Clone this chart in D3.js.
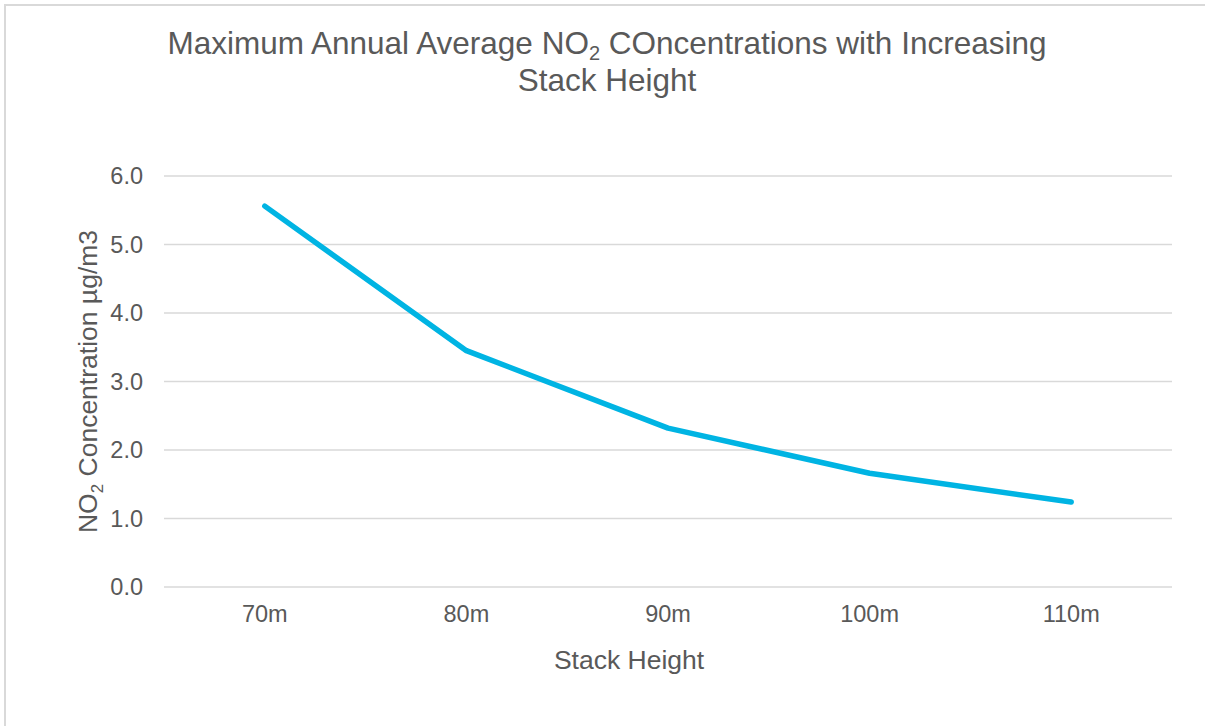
<!DOCTYPE html>
<html lang="en">
<head>
    <meta charset="UTF-8">
    <title>NO2 vs Stack Height</title>
    <script src="https://d3js.org/d3.v7.min.js"></script>
    <style>
        body{
            margin: 0;
            background: #fff;
        }
        text{
            font-family: "Liberation Sans", Arial, sans-serif;
            fill: #595959;
        }
    </style>
</head>
<body>
<script>

    // data
    const heights = ["70m", "80m", "90m", "100m", "110m"]
    const no2 = [5.56, 3.45, 2.32, 1.66, 1.24]
    const yTicks = [0, 1, 2, 3, 4, 5, 6]

    const width = 1205
    const height = 726

    let svg = d3.select("body").append("svg")
                .attr("width", width)
                .attr("height", height)

    // outer chart border
    svg.append("rect")
        .attr("x", 5).attr("y", 5)
        .attr("width", width + 10).attr("height", height + 10)
        .attr("fill", "none")
        .attr("stroke", "#d9d9d9")
        .attr("stroke-width", 2)

    const plot = {left: 164, right: 1172, top: 176, bottom: 587}

    const x = d3.scaleBand()
                .domain(heights)
                .range([plot.left, plot.right])
    const y = d3.scaleLinear()
                .domain([0, 6])
                .range([plot.bottom, plot.top])

    // gridlines
    svg.append("g").selectAll("line")
        .data(yTicks)
        .enter()
        .append("line")
        .attr("x1", plot.left).attr("x2", plot.right)
        .attr("y1", d => y(d)).attr("y2", d => y(d))
        .attr("stroke", "#d9d9d9")
        .attr("stroke-width", 1.3)

    // y tick labels
    svg.append("g").selectAll("text")
        .data(yTicks)
        .enter()
        .append("text")
        .attr("x", 143)
        .attr("y", d => y(d))
        .attr("dy", "0.35em")
        .attr("text-anchor", "end")
        .style("font-size", "23.5px")
        .text(d => d3.format(".1f")(d))

    // x tick labels
    svg.append("g").selectAll("text")
        .data(heights)
        .enter()
        .append("text")
        .attr("x", d => x(d) + x.bandwidth() / 2)
        .attr("y", 622)
        .attr("text-anchor", "middle")
        .style("font-size", "23.5px")
        .text(d => d)

    // the line
    const line = d3.line()
                .x((d, i) => x(heights[i]) + x.bandwidth() / 2)
                .y(d => y(d))

    svg.append("path")
        .datum(no2)
        .attr("d", line)
        .attr("fill", "none")
        .attr("stroke", "#00b4e3")
        .attr("stroke-width", 5.5)
        .attr("stroke-linecap", "round")
        .attr("stroke-linejoin", "round")

    // title, two lines
    let title1 = svg.append("text")
        .attr("x", 607).attr("y", 54)
        .attr("text-anchor", "middle")
        .style("font-size", "31.5px")
    title1.append("tspan").text("Maximum Annual Average NO")
    title1.append("tspan").attr("dy", 6).style("font-size", "20px").text("2")
    title1.append("tspan").attr("dy", -6).text(" COncentrations with Increasing")

    svg.append("text")
        .attr("x", 607).attr("y", 91)
        .attr("text-anchor", "middle")
        .style("font-size", "31.5px")
        .text("Stack Height")

    // axis titles
    svg.append("text")
        .attr("x", 629).attr("y", 669)
        .attr("text-anchor", "middle")
        .style("font-size", "26.5px")
        .text("Stack Height")

    let yTitle = svg.append("text")
        .attr("transform", "translate(97," + ((plot.top + plot.bottom) / 2) + ") rotate(-90)")
        .attr("text-anchor", "middle")
        .style("font-size", "26.5px")
    yTitle.append("tspan").text("NO")
    yTitle.append("tspan").attr("dy", 6).style("font-size", "17px").text("2")
    yTitle.append("tspan").attr("dy", -6).text(" Concentration µg/m3")

</script>
</body>
</html>
